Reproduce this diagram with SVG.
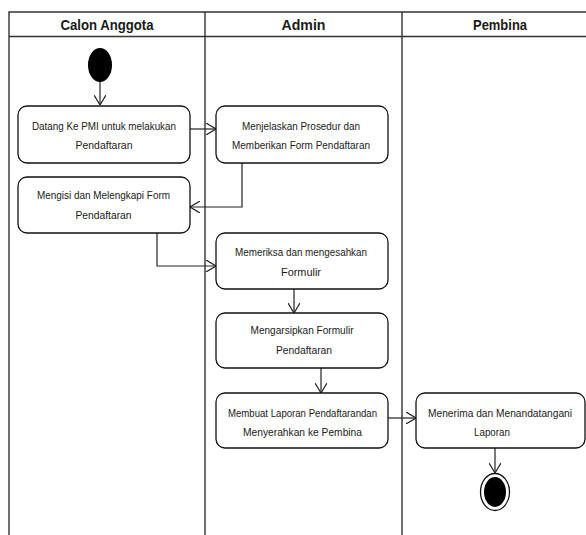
<svg xmlns="http://www.w3.org/2000/svg" width="586" height="535" viewBox="0 0 586 535">
  <defs>
    <style>
      .lane { stroke: #333; stroke-width: 1.4; fill: none; }
      .hdr { font-family: "Liberation Sans", Arial, sans-serif; font-weight: bold; font-size: 15.5px; fill: #1a1a1a; text-anchor: middle; }
      .act rect { fill: #fff; stroke: #111; stroke-width: 1.3; }
      .act text { font-family: "Liberation Sans", Arial, sans-serif; font-size: 11px; fill: #1a1a1a; text-anchor: middle; }
      .flow { stroke: #222; stroke-width: 1.2; fill: none; marker-end: url(#arrow); }
    </style>
    <marker id="arrow" viewBox="0 0 10 12" refX="10" refY="6" markerWidth="10" markerHeight="12" markerUnits="userSpaceOnUse" orient="auto">
      <path d="M0,0 L10,6 L0,12" fill="none" stroke="#222" stroke-width="1.2"/>
    </marker>
  </defs>

  <rect width="586" height="535" fill="#fff"/>

  <!-- swimlane frame -->
  <g id="lanes">
    <path class="lane" d="M9,535 V12 H586 M9,36.5 H586 M205,12 V535 M402,12 V535"/>
    <text class="hdr" x="107" y="30" textLength="93" lengthAdjust="spacingAndGlyphs">Calon Anggota</text>
    <text class="hdr" x="303.5" y="30" textLength="44" lengthAdjust="spacingAndGlyphs">Admin</text>
    <text class="hdr" x="500" y="30" textLength="54" lengthAdjust="spacingAndGlyphs">Pembina</text>
  </g>

  <!-- connectors -->
  <g id="connectors">
    <path class="flow" d="M100,82 V105"/>
    <path class="flow" d="M190,129 H216"/>
    <path class="flow" d="M242,163 V207 H190"/>
    <path class="flow" d="M157,233 V266 H216"/>
    <path class="flow" d="M294,289 V313"/>
    <path class="flow" d="M321,368 V393"/>
    <path class="flow" d="M388,418 H416"/>
    <path class="flow" d="M495,448 V473"/>
  </g>

  <g id="start">
    <ellipse cx="100" cy="65" rx="12" ry="17" fill="#000"/>
  </g>

  <g id="datang" class="act">
    <rect x="18" y="106" width="172" height="57" rx="9"/>
    <text x="104" y="130" textLength="144" lengthAdjust="spacingAndGlyphs">Datang Ke PMI untuk melakukan</text>
    <text x="104" y="149" textLength="57" lengthAdjust="spacingAndGlyphs">Pendaftaran</text>
  </g>

  <g id="menjelaskan" class="act">
    <rect x="216" y="106" width="172" height="57" rx="9"/>
    <text x="301" y="130" textLength="118" lengthAdjust="spacingAndGlyphs">Menjelaskan Prosedur dan</text>
    <text x="301" y="149" textLength="138" lengthAdjust="spacingAndGlyphs">Memberikan Form Pendaftaran</text>
  </g>

  <g id="mengisi" class="act">
    <rect x="18" y="177" width="172" height="56" rx="9"/>
    <text x="103.5" y="199" textLength="133" lengthAdjust="spacingAndGlyphs">Mengisi dan Melengkapi Form</text>
    <text x="103.5" y="219" textLength="56" lengthAdjust="spacingAndGlyphs">Pendaftaran</text>
  </g>

  <g id="memeriksa" class="act">
    <rect x="216" y="233" width="172" height="56" rx="9"/>
    <text x="301" y="256" textLength="132" lengthAdjust="spacingAndGlyphs">Memeriksa dan mengesahkan</text>
    <text x="301" y="276" textLength="40" lengthAdjust="spacingAndGlyphs">Formulir</text>
  </g>

  <g id="mengarsipkan" class="act">
    <rect x="216" y="313" width="172" height="55" rx="9"/>
    <text x="302" y="334" textLength="103" lengthAdjust="spacingAndGlyphs">Mengarsipkan Formulir</text>
    <text x="304" y="354" textLength="56" lengthAdjust="spacingAndGlyphs">Pendaftaran</text>
  </g>

  <g id="membuat" class="act">
    <rect x="216" y="393" width="172" height="55" rx="9"/>
    <text x="302.5" y="417" textLength="149" lengthAdjust="spacingAndGlyphs">Membuat Laporan Pendaftarandan</text>
    <text x="302.5" y="436" textLength="119" lengthAdjust="spacingAndGlyphs">Menyerahkan ke Pembina</text>
  </g>

  <g id="menerima" class="act">
    <rect x="416" y="393" width="169" height="55" rx="9"/>
    <text x="500" y="417" textLength="144" lengthAdjust="spacingAndGlyphs">Menerima dan Menandatangani</text>
    <text x="492" y="436" textLength="36" lengthAdjust="spacingAndGlyphs">Laporan</text>
  </g>

  <g id="end">
    <ellipse cx="495" cy="492" rx="14.5" ry="18.5" fill="#fff" stroke="#111" stroke-width="1.3"/>
    <ellipse cx="495" cy="492" rx="11" ry="15" fill="#000"/>
  </g>
</svg>
